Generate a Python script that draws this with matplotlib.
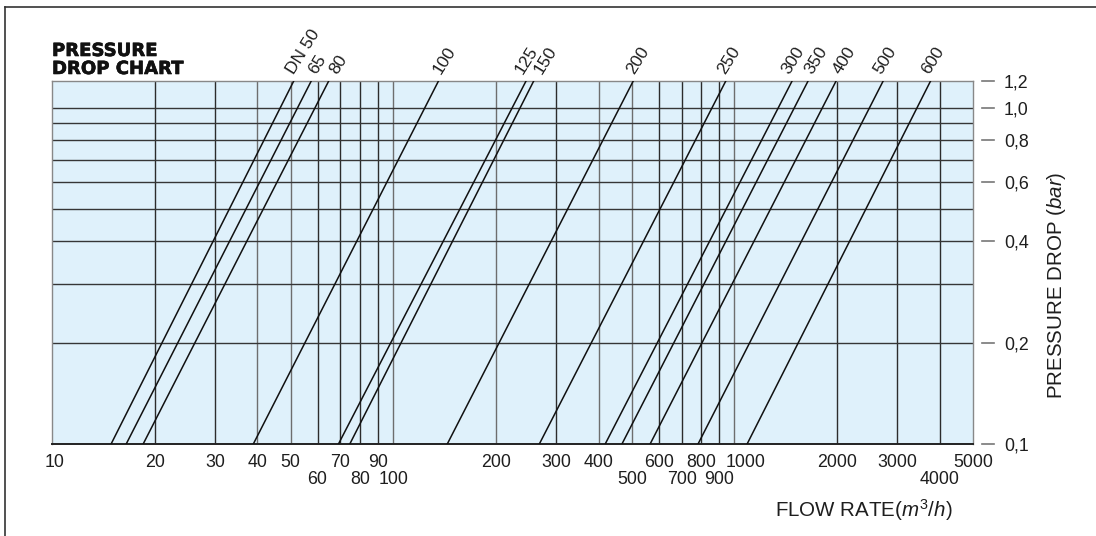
import matplotlib
matplotlib.use('Agg')
import matplotlib.pyplot as plt
import matplotlib.patheffects as pe
from matplotlib.lines import Line2D
from matplotlib.ticker import FixedLocator, FixedFormatter, NullLocator

plt.rcParams['font.family'] = ['Liberation Sans', 'DejaVu Sans']
plt.rcParams['mathtext.fontset'] = 'custom'
plt.rcParams['mathtext.rm'] = 'Liberation Sans'
plt.rcParams['mathtext.it'] = 'Liberation Sans:italic'

# valve sizes and the flow (m3/h) where each line crosses 0.1 bar and 1.2 bar
dn_labels = ['DN 50', '65', '80', '100', '125', '150', '200', '250',
             '300', '350', '400', '500', '600']
flow_at_min = [14.9, 16.5, 18.5, 38.9, 69.1, 74.6, 144, 268,
               418, 468, 566, 782, 1089]
flow_at_max = [51.1, 57.5, 64.7, 135.7, 245, 258, 505, 943,
               1475, 1643, 1985, 2727, 3755]
dp_min, dp_max = 0.1, 1.2

x_grid = [20, 30, 40, 50, 60, 70, 80, 90, 100, 200, 300, 400, 500,
          600, 700, 800, 900, 1000, 2000, 3000, 4000]
x_grid_light = [40, 50, 100, 200, 400, 500, 1000]
y_grid = [0.2, 0.3, 0.4, 0.5, 0.6, 0.7, 0.8, 0.9, 1.0]

x_row1 = [10, 20, 30, 40, 50, 70, 90, 200, 300, 400, 600, 800, 1000, 2000, 3000, 5000]
x_row2 = [60, 80, 100, 500, 700, 900, 4000]
y_ticks = [0.1, 0.2, 0.4, 0.6, 0.8, 1.0, 1.2]
y_tick_labels = ['0,1', '0,2', '0,4', '0,6', '0,8', '1,0', '1,2']

# horizontal nudges (px) so crowded labels do not collide
label_dx = [0, 5, 9, 2, -3, 8, 1, -1, -3, 4, 5, -2, -1]
row1_dx = {10: 3, 1000: 11}

W, H = 1096, 536
PT = 0.72  # points per pixel at dpi 100
fig = plt.figure(figsize=(W / 100, H / 100), dpi=100)
left, right, top, bottom = 52, 973, 81, 444
ax = fig.add_axes([left / W, 1 - bottom / H, (right - left) / W, (bottom - top) / H])
ax.set_facecolor('#dff1fb')
ax.set_xscale('log')
ax.set_yscale('log')
ax.set_xlim(10, 5000)
ax.set_ylim(dp_min, dp_max)

for v in x_grid:
    c = '#6e6e6e' if v in x_grid_light else '#2c2c2c'
    ax.axvline(v, color=c, lw=1.0, zorder=1)
for v in y_grid:
    ax.axhline(v, color='#363636', lw=1.0, zorder=1)

for lbl, q0, q1, dx in zip(dn_labels, flow_at_min, flow_at_max, label_dx):
    ax.plot([q0, q1], [dp_min, dp_max], color='#111111', lw=1.1, zorder=3)
    ax.annotate(lbl, xy=(q1, dp_max), xytext=(dx * PT, 6 * PT), textcoords='offset points',
                rotation=58, rotation_mode='anchor', ha='left', va='baseline',
                fontsize=12.5, color='#1e1e1e', annotation_clip=False)

# x ticks in two rows; nudged labels of the first row are drawn separately
ax.xaxis.set_major_locator(FixedLocator(x_row1))
ax.xaxis.set_major_formatter(FixedFormatter(['' if v in row1_dx else str(v) for v in x_row1]))
ax.xaxis.set_minor_locator(FixedLocator(x_row2))
ax.xaxis.set_minor_formatter(FixedFormatter([str(v) for v in x_row2]))
ax.tick_params(axis='x', which='major', length=0, pad=7, labelsize=12.8, labelcolor='#1e1e1e')
ax.tick_params(axis='x', which='minor', length=0, pad=19.5, labelsize=12.8, labelcolor='#1e1e1e')
for v, dx in row1_dx.items():
    ax.annotate(str(v), xy=(v, 0), xycoords=ax.get_xaxis_transform(),
                xytext=(dx * PT, -7), textcoords='offset points', ha='center', va='top',
                fontsize=12.8, color='#1e1e1e', annotation_clip=False)

# y ticks on the right with detached dashes
ax.yaxis.tick_right()
ax.yaxis.set_major_locator(FixedLocator(y_ticks))
ax.yaxis.set_major_formatter(FixedFormatter(y_tick_labels))
ax.yaxis.set_minor_locator(NullLocator())
ax.tick_params(axis='y', which='both', length=0, pad=22.3, labelsize=12.8, labelcolor='#1e1e1e')
trans = ax.get_yaxis_transform()
for v in y_ticks:
    ax.plot([1.0095, 1.0231], [v, v], transform=trans, color='#777777', lw=1.2, clip_on=False)

for s in ['top', 'left', 'right']:
    ax.spines[s].set_color('#888888')
    ax.spines[s].set_linewidth(1.0)
ax.spines['bottom'].set_color('#222222')
ax.spines['bottom'].set_linewidth(1.4)

heavy = [pe.withStroke(linewidth=0.45, foreground='#111111')]
fig.text(left / W, 1 - 56 / H, 'PRESSURE', fontsize=13, fontweight='bold',
         family='DejaVu Sans', va='baseline', color='#111111', path_effects=heavy)
fig.text(left / W, 1 - 74 / H, 'DROP CHART', fontsize=13, fontweight='bold',
         family='DejaVu Sans', va='baseline', color='#111111', path_effects=heavy)

fig.text(864 / W, 1 - 510 / H, r'FLOW RATE$\mathit{(m^3/h)}$', ha='center', va='center',
         fontsize=14.8, color='#1e1e1e')
fig.text(1057 / W, 1 - 285 / H, r'PRESSURE DROP $\mathit{(bar)}$', ha='center', va='center',
         rotation=90, fontsize=14.8, color='#1e1e1e')

# outer frame, cut off at right and bottom
fig.add_artist(Line2D([5.3 / W, 5.3 / W], [0, 1 - 7.3 / H], transform=fig.transFigure,
                      color='#333333', lw=1.2))
fig.add_artist(Line2D([5.3 / W, 1], [1 - 7.3 / H, 1 - 7.3 / H], transform=fig.transFigure,
                      color='#333333', lw=1.2))

fig.savefig('out.png', dpi=100)
